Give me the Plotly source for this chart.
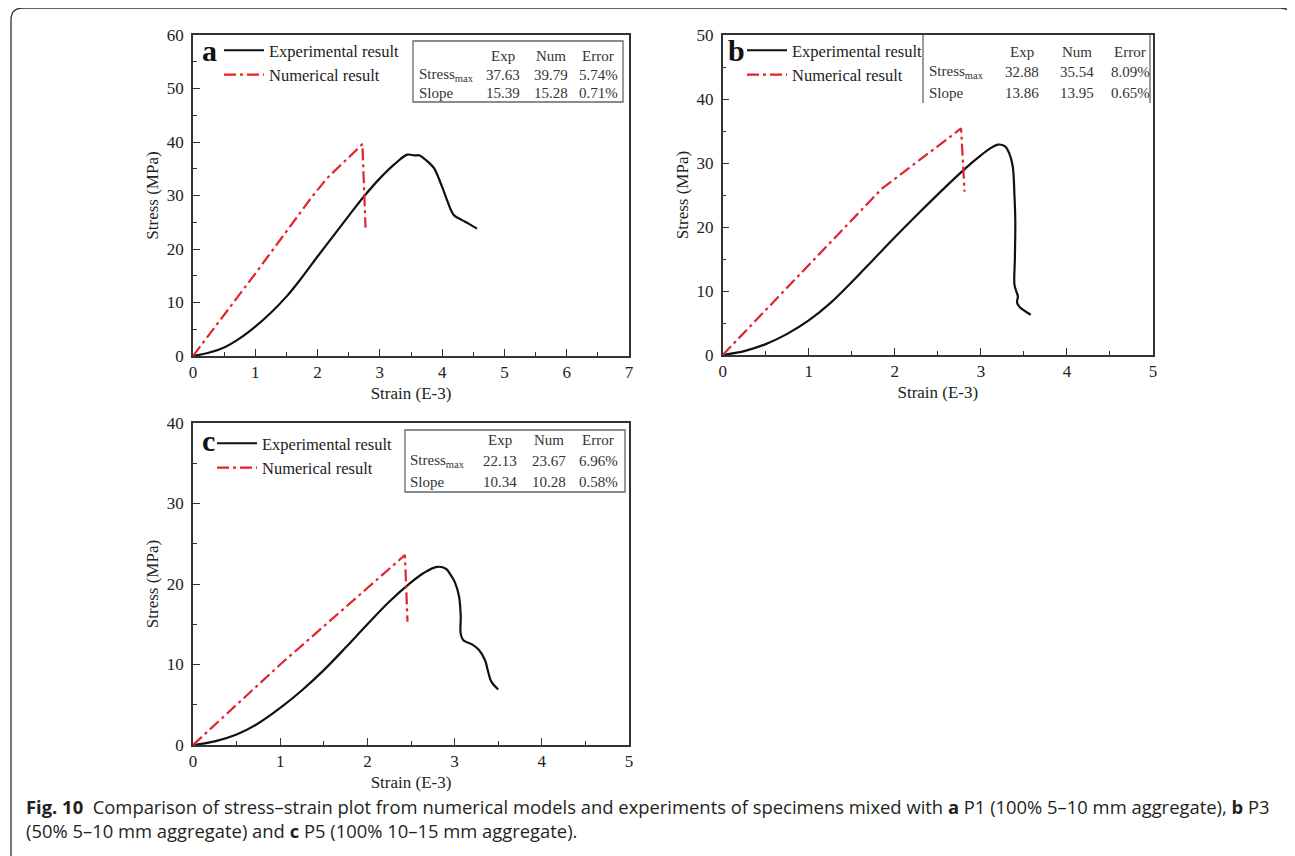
import plotly.graph_objects as go

# page is drawn with the browser's 8px body margin, so the figure is 8px smaller
OFF = 8
W, H = 1295 - OFF, 856 - OFF

# ---------------- data ----------------
strain_a_exp = [0, 0.25, 0.5, 0.75, 1.0, 1.25, 1.5, 1.75, 2.0, 2.25, 2.5, 2.75, 3.0, 3.25, 3.44, 3.55, 3.63, 3.7, 3.8, 3.87, 4.0, 4.08, 4.19, 4.32, 4.43, 4.56]
stress_a_exp = [0, 0.6, 1.6, 3.3, 5.5, 8.1, 11.1, 14.7, 18.6, 22.4, 26.2, 29.9, 33.2, 36.0, 37.63, 37.5, 37.5, 37.0, 36.0, 35.1, 31.6, 29.1, 26.3, 25.4, 24.7, 23.8]
strain_a_num = [0, 1.0, 1.9, 2.15, 2.72, 2.77]
stress_a_num = [0, 15.4, 29.6, 33.2, 39.6, 24.0]

strain_b_exp = [0, 0.25, 0.5, 0.75, 1.0, 1.25, 1.5, 1.75, 2.0, 2.25, 2.5, 2.75, 2.9, 3.0, 3.1, 3.2, 3.28, 3.33, 3.37, 3.39, 3.40, 3.395, 3.39, 3.41, 3.43, 3.42, 3.45, 3.52, 3.58]
stress_b_exp = [0, 0.6, 1.7, 3.3, 5.4, 8.1, 11.4, 14.9, 18.4, 21.8, 25.1, 28.3, 30.1, 31.2, 32.2, 32.88, 32.6, 31.5, 29.5, 25.0, 21.0, 15.0, 11.0, 10.0, 9.2, 8.2, 7.5, 6.8, 6.3]
strain_b_num = [0, 1.85, 2.77, 2.81]
stress_b_num = [0, 26.0, 35.4, 25.5]

strain_c_exp = [0, 0.25, 0.5, 0.75, 1.0, 1.25, 1.5, 1.75, 2.0, 2.25, 2.5, 2.65, 2.8, 2.9, 2.95, 3.0, 3.05, 3.07, 3.07, 3.1, 3.2, 3.28, 3.35, 3.38, 3.42, 3.5]
stress_c_exp = [0, 0.45, 1.3, 2.7, 4.6, 6.8, 9.3, 12.1, 15.0, 17.8, 20.2, 21.4, 22.13, 21.9, 21.2, 20.3, 18.5, 16.0, 13.8, 13.0, 12.5, 11.8, 10.5, 9.3, 7.9, 6.9]
strain_c_num = [0, 1.0, 2.0, 2.43, 2.46]
stress_c_num = [0, 10.0, 19.5, 23.6, 15.3]

series_names = ["Experimental result", "Numerical result"]
panel_letters = ["a", "b", "c"]
table_header = ["Exp", "Num", "Error"]
table_rows = ["Stress<sub>max</sub>", "Slope"]
table_a = [["37.63", "39.79", "5.74%"], ["15.39", "15.28", "0.71%"]]
table_b = [["32.88", "35.54", "8.09%"], ["13.86", "13.95", "0.65%"]]
table_c = [["22.13", "23.67", "6.96%"], ["10.34", "10.28", "0.58%"]]

x_ranges = [[0, 7], [0, 5], [0, 5]]
y_ranges = [[0, 60], [0, 50], [0, 40]]

caption_line1 = ("<b>Fig. 10</b>  Comparison of stress–strain plot from numerical models and experiments "
                 "of specimens mixed with <b>a</b> P1 (100% 5–10 mm aggregate), <b>b</b> P3")
caption_line2 = "(50% 5–10 mm aggregate) and <b>c</b> P5 (100% 10–15 mm aggregate)."

# ---------------- helpers (window pixel -> paper) ----------------
def px(x):
    return (x - OFF) / W

def py(y):
    return 1 - (y - OFF) / H

SERIF = "Liberation Serif"
RED = "#e1232b"
BLACK = "#111111"

fig = go.Figure()

panels = [
    dict(xs=(strain_a_exp, strain_a_num), ys=(stress_a_exp, stress_a_num), table=table_a,
         xd=[193, 629], yd=[35, 356], letter=(209, 51), leg=(219, 33),
         tab=dict(kind="box", box=(413, 41, 623, 102), lab=417, cols=(503, 551, 598), rows=(56, 75, 93))),
    dict(xs=(strain_b_exp, strain_b_num), ys=(stress_b_exp, stress_b_num), table=table_b,
         xd=[722.7, 1153], yd=[35, 355], letter=(736, 50), leg=(742, 33),
         tab=dict(kind="sides", box=(923, 35, 1153, 103), lab=927, cols=(1022, 1077, 1130), rows=(52, 72, 93))),
    dict(xs=(strain_c_exp, strain_c_num), ys=(stress_c_exp, stress_c_num), table=table_c,
         xd=[193, 629], yd=[423, 745], letter=(208, 441), leg=(212, 426),
         tab=dict(kind="box", box=(405, 430, 625, 492), lab=408, cols=(500, 549, 598), rows=(440, 461, 482))),
]

annotations = []
shapes = []
layout_axes = {}

for i, p in enumerate(panels):
    n = "" if i == 0 else str(i + 1)
    xa, ya = "x" + n, "y" + n
    leg = "legend" if i == 0 else "legend" + str(i + 1)
    fig.add_trace(go.Scatter(x=p["xs"][0], y=p["ys"][0], mode="lines", name=series_names[0],
                             line=dict(color=BLACK, width=2.2, shape="spline", smoothing=1.0),
                             xaxis=xa, yaxis=ya, legend=leg))
    fig.add_trace(go.Scatter(x=p["xs"][1], y=p["ys"][1], mode="lines", name=series_names[1],
                             line=dict(color=RED, width=2.2, dash="12px,4px,3px,4px"),
                             xaxis=xa, yaxis=ya, legend=leg))
    xr, yr = x_ranges[i], y_ranges[i]
    common = dict(showgrid=False, zeroline=False, showline=True, linecolor="#333", linewidth=1.5,
                  mirror=True, ticks="inside", ticklen=7, tickwidth=1.3, tickcolor="#333",
                  tickfont=dict(family=SERIF, size=17, color="#222"), automargin=False,
                  minor=dict(ticks="inside", ticklen=4, tickwidth=1.2, tickcolor="#333"))
    layout_axes["xaxis" + n] = dict(common, domain=[px(p["xd"][0]), px(p["xd"][1])], range=xr,
                                    dtick=1, tick0=0, anchor=ya, minor_dtick=0.5,
                                    title=dict(text="Strain (E-3)", font=dict(family=SERIF, size=17, color="#222"), standoff=6))
    layout_axes["yaxis" + n] = dict(common, domain=[py(p["yd"][1]), py(p["yd"][0])], range=yr,
                                    dtick=10, tick0=0, anchor=xa, minor_dtick=5, ticklabelstandoff=4,
                                    title=dict(text="Stress (MPa)", font=dict(family=SERIF, size=17, color="#222"), standoff=4))
    layout_axes[leg] = dict(x=px(p["leg"][0]), y=py(p["leg"][1]), xanchor="left", yanchor="top",
                            bgcolor="rgba(0,0,0,0)", font=dict(family=SERIF, size=16.5, color="#222"),
                            tracegroupgap=0, itemwidth=40)
    # panel letter
    annotations.append(dict(text="<b>" + panel_letters[i] + "</b>", x=px(p["letter"][0]), y=py(p["letter"][1]),
                            xref="paper", yref="paper", showarrow=False, xanchor="center", yanchor="middle",
                            font=dict(family=SERIF, size=30, color="#111")))
    # table
    t = p["tab"]
    for j, h in enumerate(table_header):
        annotations.append(dict(text=h, x=px(t["cols"][j]), y=py(t["rows"][0]), xref="paper", yref="paper",
                                showarrow=False, xanchor="center", yanchor="middle",
                                font=dict(family=SERIF, size=15, color="#333")))
    for r, rl in enumerate(table_rows):
        annotations.append(dict(text=rl, x=px(t["lab"]), y=py(t["rows"][r + 1]), xref="paper", yref="paper",
                                showarrow=False, xanchor="left", yanchor="middle",
                                font=dict(family=SERIF, size=15, color="#333")))
        for j, v in enumerate(p["table"][r]):
            annotations.append(dict(text=v, x=px(t["cols"][j]), y=py(t["rows"][r + 1]), xref="paper", yref="paper",
                                    showarrow=False, xanchor="center", yanchor="middle",
                                    font=dict(family=SERIF, size=15, color="#333")))
    x0, y0, x1, y1 = t["box"]
    if t["kind"] == "box":
        shapes.append(dict(type="rect", xref="paper", yref="paper", x0=px(x0), x1=px(x1), y0=py(y1), y1=py(y0),
                           line=dict(color="#666", width=1.3)))
    else:
        for xx in (x0, x1 - 3):
            shapes.append(dict(type="line", xref="paper", yref="paper", x0=px(xx), x1=px(xx), y0=py(y1), y1=py(y0),
                               line=dict(color="#666", width=1.3)))

# caption
cap_font = dict(family="Open Sans", size=18.4, color="#231f20")
annotations.append(dict(text=caption_line1, x=px(24), y=py(806), xref="paper", yref="paper", showarrow=False,
                        xanchor="left", yanchor="middle", font=cap_font))
annotations.append(dict(text=caption_line2, x=px(24), y=py(830), xref="paper", yref="paper", showarrow=False,
                        xanchor="left", yanchor="middle", font=cap_font))

# page frame (rounded top corners, open at the bottom)
r = 12
path = (f"M {px(11)},{py(856)} L {px(11)},{py(8 + r)} Q {px(11)},{py(8)} {px(11 + r)},{py(8)} "
        f"L {px(1292 - r)},{py(8)} Q {px(1292)},{py(8)} {px(1292)},{py(8 + r)} L {px(1292)},{py(856)}")
shapes.append(dict(type="path", xref="paper", yref="paper", path=path, line=dict(color="#333", width=1.3)))

fig.update_layout(width=W, height=H, margin=dict(l=0, r=0, t=0, b=0),
                  paper_bgcolor="white", plot_bgcolor="white",
                  annotations=annotations, shapes=shapes, **layout_axes)

fig.write_html("out.html")
